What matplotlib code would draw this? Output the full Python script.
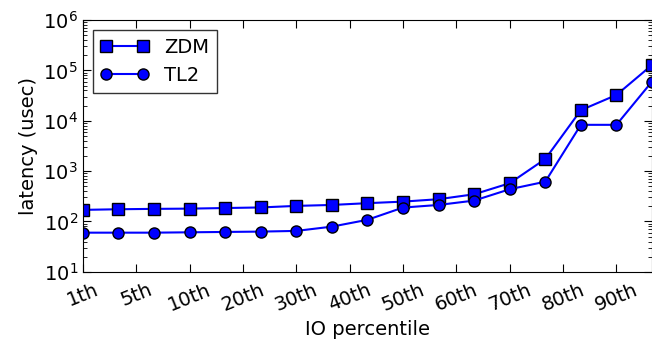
import numpy as np
import matplotlib
matplotlib.use("Agg")
from matplotlib import pyplot as plt

# percentile tick labels and the two latency series (usec)
tick_labels = ["1th", "5th", "10th", "20th", "30th", "40th",
               "50th", "60th", "70th", "80th", "90th"]
zdm = [170, 175, 178, 180, 185, 190, 204, 213, 231, 248, 277, 347,
       575, 1740, 16200, 32500, 128000]
tl2 = [60, 60, 60, 61, 62, 63, 65, 79, 108, 189, 213, 260,
       437, 617, 8300, 8300, 60000]

x = np.arange(len(zdm)) * 2.0 / 3.0

plt.rcParams['font.family'] = ['DejaVu Sans']
fig = plt.figure(figsize=(6.52, 3.45), dpi=100)
ax = fig.add_axes([0.127, 0.212, 0.873, 0.730])

ax.plot(x, zdm, 'bs-', markersize=8, markeredgecolor='black', linewidth=1.5,
        label="ZDM")
ax.plot(x, tl2, 'bo-', markersize=8, markeredgecolor='black', linewidth=1.5,
        label="TL2")

ax.set_yscale('log')
ax.set_ylim(10, 1e6)
ax.set_xlim(0, x[-1])
ax.set_xticks(np.arange(len(tick_labels)))
ax.set_xticklabels(tick_labels, rotation=22, fontsize=14)
ax.tick_params(axis='both', which='both', direction='in', top=True, right=True)
ax.tick_params(axis='both', which='major', length=6, labelsize=14)
ax.tick_params(axis='y', which='minor', length=3)
ax.tick_params(axis='x', which='major', pad=6)

ax.set_xlabel("IO percentile", fontsize=14)
ax.set_ylabel("latency (usec)", fontsize=14)

leg = ax.legend(loc='upper left', numpoints=2, fancybox=False, fontsize=14,
                borderaxespad=0.5, handlelength=2.5)
leg.get_frame().set_edgecolor('black')
leg.get_frame().set_linewidth(1.0)

fig.savefig("out.png", dpi=100)
